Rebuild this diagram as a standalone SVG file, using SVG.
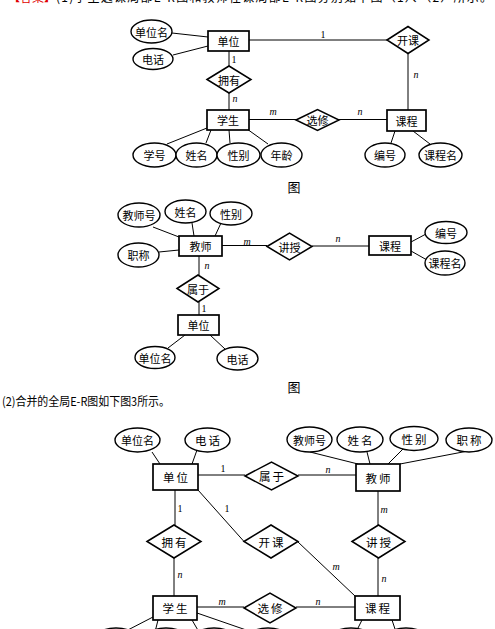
<svg xmlns="http://www.w3.org/2000/svg" width="495" height="629" viewBox="0 0 495 629">
<style>
.ent{fill:#fff;stroke:#000;stroke-width:1.7}
.att{fill:#fff;stroke:#000;stroke-width:1.4}
.rel{fill:#fff;stroke:#000;stroke-width:1.5}
.t{font-family:"Noto Sans CJK SC","Noto Sans CJK JP",sans-serif;font-size:11px;text-anchor:middle;dominant-baseline:central;fill:#000}
.t3{font-family:"Noto Sans CJK SC","Noto Sans CJK JP",sans-serif;font-size:11.5px;text-anchor:middle;dominant-baseline:central;fill:#000;letter-spacing:2px}
.c{font-family:"Liberation Serif",serif;font-style:italic;font-size:10px;text-anchor:middle;fill:#000}
.one{font-family:"Liberation Serif",serif;font-size:10px;text-anchor:middle;fill:#000}
.cap{font-family:"Noto Sans CJK SC",sans-serif;font-size:13px;text-anchor:middle;dominant-baseline:central;fill:#000}
#connectors line{stroke:#000;stroke-width:1}
</style>
<rect width="495" height="629" fill="#fff"/>
<text x="8" y="2" font-family="Noto Sans CJK SC,sans-serif" font-size="12" fill="#e00000">【答案】</text>
<text x="56" y="2" font-family="Noto Sans CJK SC,sans-serif" font-size="12" fill="#000" textLength="436" lengthAdjust="spacing">(1)学生选课局部E-R图和教师任课局部E-R图分别如下图（1）、（2）所示。</text>

<g id="connectors">
<!-- figure 1 -->
<line x1="172" y1="33" x2="208" y2="37"/>
<line x1="173" y1="55" x2="208" y2="46"/>
<line x1="249" y1="40" x2="387" y2="40"/>
<line x1="408" y1="53.5" x2="408" y2="110"/>
<line x1="229" y1="51" x2="229" y2="66"/>
<line x1="229" y1="93" x2="229" y2="110"/>
<line x1="249" y1="119.5" x2="296" y2="119.5"/>
<line x1="339" y1="119.5" x2="387" y2="119.5"/>
<line x1="207" y1="128" x2="167" y2="144"/>
<line x1="211" y1="130" x2="206" y2="143"/>
<line x1="229" y1="130" x2="230" y2="143"/>
<line x1="247" y1="129" x2="268" y2="144"/>
<line x1="395" y1="131" x2="391" y2="143"/>
<line x1="413" y1="131" x2="430" y2="144"/>
<!-- figure 2 -->
<line x1="153" y1="227" x2="179" y2="237"/>
<line x1="192" y1="223" x2="194" y2="236"/>
<line x1="221" y1="223" x2="215" y2="236"/>
<line x1="159" y1="252" x2="179" y2="250"/>
<line x1="222" y1="245.5" x2="267" y2="245.5"/>
<line x1="312" y1="246" x2="369" y2="246"/>
<line x1="411" y1="242" x2="426" y2="234"/>
<line x1="411" y1="251" x2="427" y2="260"/>
<line x1="199" y1="256" x2="199" y2="275"/>
<line x1="199" y1="302" x2="199" y2="315"/>
<line x1="185" y1="335" x2="168" y2="348"/>
<line x1="210" y1="335" x2="225" y2="349"/>
<!-- figure 3 -->
<line x1="152" y1="452" x2="160" y2="464"/>
<line x1="197" y1="450" x2="192" y2="464"/>
<line x1="198" y1="475" x2="245" y2="475"/>
<line x1="298" y1="475" x2="356" y2="475"/>
<line x1="310" y1="452" x2="358" y2="464"/>
<line x1="367" y1="452" x2="370" y2="464"/>
<line x1="403" y1="449" x2="388" y2="464"/>
<line x1="468" y1="451" x2="400" y2="464"/>
<line x1="175" y1="490" x2="175" y2="525"/>
<line x1="198" y1="490" x2="244" y2="541.5"/>
<line x1="378" y1="491" x2="378" y2="525"/>
<line x1="174" y1="558" x2="174" y2="596"/>
<line x1="298" y1="542" x2="355" y2="596"/>
<line x1="378" y1="558" x2="378" y2="596"/>
<line x1="197" y1="607" x2="244" y2="607"/>
<line x1="296" y1="607" x2="355" y2="607"/>
<line x1="153" y1="617" x2="124" y2="632"/>
<line x1="158" y1="620" x2="155" y2="632"/>
<line x1="192" y1="620" x2="199" y2="632"/>
<line x1="197" y1="613" x2="252" y2="632"/>
<line x1="362" y1="620" x2="356" y2="632"/>
<line x1="392" y1="620" x2="396" y2="632"/>
<!-- cardinalities -->
<text class="one" x="323" y="38">1</text>
<text class="c" x="416" y="78">n</text>
<text class="one" x="234" y="63">1</text>
<text class="c" x="235" y="102">n</text>
<text class="c" x="273" y="115">m</text>
<text class="c" x="360" y="115">n</text>
<text class="c" x="247" y="245">m</text>
<text class="c" x="338" y="242">n</text>
<text class="c" x="207" y="269">n</text>
<text class="one" x="204" y="312">1</text>
<text class="one" x="223" y="472">1</text>
<text class="c" x="328" y="473">n</text>
<text class="one" x="180" y="512">1</text>
<text class="one" x="227" y="512">1</text>
<text class="c" x="384" y="513">m</text>
<text class="c" x="180" y="578">n</text>
<text class="c" x="336" y="570">m</text>
<text class="c" x="384" y="582">n</text>
<text class="c" x="222" y="605">m</text>
<text class="c" x="318" y="605">n</text>
</g>

<!-- Figure 1 nodes -->
<g id="f1-danwei"><rect class="ent" x="208" y="31" width="41" height="20"/><text class="t" x="228.5" y="41">单位</text></g>
<g id="f1-danweiming"><ellipse class="att" cx="151.5" cy="31.5" rx="20.5" ry="11.5"/><text class="t" x="151.5" y="31.5">单位名</text></g>
<g id="f1-dianhua"><ellipse class="att" cx="153" cy="59" rx="20" ry="10.5"/><text class="t" x="153" y="59">电话</text></g>
<g id="f1-kaike"><polygon class="rel" points="387,40 408,26.5 429,40 408,53.5"/><text class="t" x="408" y="40">开课</text></g>
<g id="f1-yongyou"><polygon class="rel" points="207,79.5 229,66 251,79.5 229,93"/><text class="t" x="229" y="79.5">拥有</text></g>
<g id="f1-xuesheng"><rect class="ent" x="207" y="110" width="42" height="20"/><text class="t" x="228" y="120">学生</text></g>
<g id="f1-xuanxiu"><polygon class="rel" points="296,120 317.5,109.5 339,120 317.5,130.5"/><text class="t" x="317.5" y="120">选修</text></g>
<g id="f1-kecheng"><rect class="ent" x="387" y="110" width="39" height="21"/><text class="t" x="406.5" y="120.5">课程</text></g>
<g id="f1-xuehao"><ellipse class="att" cx="154.5" cy="155" rx="21.5" ry="12"/><text class="t" x="154.5" y="155">学号</text></g>
<g id="f1-xingming"><ellipse class="att" cx="196.5" cy="155" rx="20.5" ry="12"/><text class="t" x="196.5" y="155">姓名</text></g>
<g id="f1-xingbie"><ellipse class="att" cx="238.5" cy="155" rx="21.5" ry="12"/><text class="t" x="238.5" y="155">性别</text></g>
<g id="f1-nianling"><ellipse class="att" cx="281.5" cy="155" rx="20.5" ry="12"/><text class="t" x="281.5" y="155">年龄</text></g>
<g id="f1-bianhao"><ellipse class="att" cx="385" cy="155" rx="20" ry="12"/><text class="t" x="385" y="155">编号</text></g>
<g id="f1-kechengming"><ellipse class="att" cx="440.5" cy="155" rx="21.5" ry="12"/><text class="t" x="440.5" y="155">课程名</text></g>
<text class="cap" x="294" y="186.5">图</text>

<!-- Figure 2 nodes -->
<g id="f2-jiaoshi"><rect class="ent" x="179" y="236" width="43" height="20"/><text class="t" x="200.5" y="246">教师</text></g>
<g id="f2-jiaoshihao"><ellipse class="att" cx="139" cy="215" rx="21" ry="12"/><text class="t" x="139" y="215">教师号</text></g>
<g id="f2-xingming"><ellipse class="att" cx="185.5" cy="211.5" rx="20.5" ry="11.5"/><text class="t" x="185.5" y="211.5">姓名</text></g>
<g id="f2-xingbie"><ellipse class="att" cx="231" cy="213.5" rx="21" ry="11.5"/><text class="t" x="231" y="213.5">性别</text></g>
<g id="f2-zhicheng"><ellipse class="att" cx="138.5" cy="255" rx="20.5" ry="12"/><text class="t" x="138.5" y="255">职称</text></g>
<g id="f2-jiangshou"><polygon class="rel" points="267,246.5 289.5,233 312,246.5 289.5,260"/><text class="t" x="289.5" y="246.5">讲授</text></g>
<g id="f2-kecheng"><rect class="ent" x="369" y="236" width="42" height="19"/><text class="t" x="390" y="245.5">课程</text></g>
<g id="f2-bianhao"><ellipse class="att" cx="446" cy="232.5" rx="21" ry="11"/><text class="t" x="446" y="232.5">编号</text></g>
<g id="f2-kechengming"><ellipse class="att" cx="445" cy="263" rx="20" ry="12"/><text class="t" x="445" y="263">课程名</text></g>
<g id="f2-shuyu"><polygon class="rel" points="177,288.5 198,275 219,288.5 198,302"/><text class="t" x="198" y="288.5">属于</text></g>
<g id="f2-danwei"><rect class="ent" x="178" y="315" width="41" height="20"/><text class="t" x="198.5" y="325">单位</text></g>
<g id="f2-danweiming"><ellipse class="att" cx="155" cy="357.5" rx="20" ry="11"/><text class="t" x="155" y="357.5">单位名</text></g>
<g id="f2-dianhua"><ellipse class="att" cx="237.5" cy="358.5" rx="20.5" ry="11.5"/><text class="t" x="237.5" y="358.5">电话</text></g>
<text class="cap" x="294" y="386">图</text>

<text x="2" y="406" font-family="Noto Sans CJK SC,sans-serif" font-size="12" fill="#000" textLength="168" lengthAdjust="spacingAndGlyphs">(2)合并的全局E-R图如下图3所示。</text>

<!-- Figure 3 nodes -->
<g id="f3-danweiming"><ellipse class="att" cx="137.5" cy="440" rx="22.5" ry="12"/><text class="t" x="137.5" y="440">单位名</text></g>
<g id="f3-dianhua"><ellipse class="att" cx="207.5" cy="440" rx="22.5" ry="12"/><text class="t3" x="208.5" y="440">电话</text></g>
<g id="f3-danwei"><rect class="ent" x="153" y="464" width="45" height="26"/><text class="t3" x="176.5" y="477">单位</text></g>
<g id="f3-shuyu"><polygon class="rel" points="245,476 271.5,462 298,476 271.5,490"/><text class="t3" x="272.5" y="476">属于</text></g>
<g id="f3-jiaoshi"><rect class="ent" x="356" y="464" width="44" height="27"/><text class="t3" x="379" y="477.5">教师</text></g>
<g id="f3-jiaoshihao"><ellipse class="att" cx="309.5" cy="439.5" rx="22.5" ry="12.5"/><text class="t" x="309.5" y="439.5">教师号</text></g>
<g id="f3-xingming"><ellipse class="att" cx="360" cy="439.5" rx="23" ry="12.5"/><text class="t3" x="361" y="439.5">姓名</text></g>
<g id="f3-xingbie"><ellipse class="att" cx="414" cy="438.5" rx="24" ry="12"/><text class="t3" x="415" y="438.5">性别</text></g>
<g id="f3-zhicheng"><ellipse class="att" cx="469" cy="440" rx="23" ry="12"/><text class="t3" x="470" y="440">职称</text></g>
<g id="f3-yongyou"><polygon class="rel" points="147,541.5 174,525 201,541.5 174,558"/><text class="t3" x="175" y="541.5">拥有</text></g>
<g id="f3-kaike"><polygon class="rel" points="244,541.5 271,525 298,541.5 271,558"/><text class="t3" x="272" y="541.5">开课</text></g>
<g id="f3-jiangshou"><polygon class="rel" points="352,541.5 378.5,525 405,541.5 378.5,558"/><text class="t3" x="379.5" y="541.5">讲授</text></g>
<g id="f3-xuesheng"><rect class="ent" x="153" y="596" width="44" height="24"/><text class="t3" x="176" y="608">学生</text></g>
<g id="f3-xuanxiu"><polygon class="rel" points="244,608 270,593 296,608 270,623"/><text class="t3" x="271" y="608">选修</text></g>
<g id="f3-kecheng"><rect class="ent" x="355" y="596" width="45" height="24"/><text class="t3" x="378.5" y="608">课程</text></g>
<g id="f3-att1"><ellipse class="att" cx="116" cy="641" rx="23" ry="13"/></g>
<g id="f3-att2"><ellipse class="att" cx="166" cy="641" rx="23" ry="13"/></g>
<g id="f3-att3"><ellipse class="att" cx="214" cy="641" rx="23" ry="13"/></g>
<g id="f3-att4"><ellipse class="att" cx="268" cy="641" rx="23" ry="13"/></g>
<g id="f3-att5"><ellipse class="att" cx="351" cy="641" rx="23" ry="13"/></g>
<g id="f3-att6"><ellipse class="att" cx="406" cy="641" rx="23" ry="13"/></g>
</svg>
